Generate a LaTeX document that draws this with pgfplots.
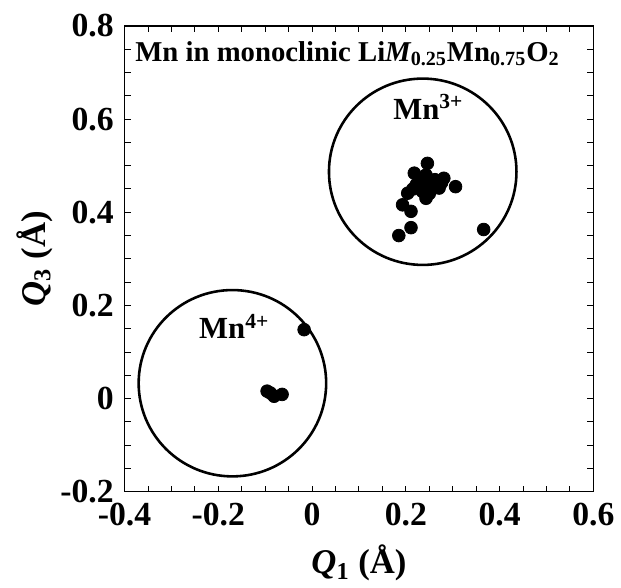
\documentclass[border=0pt]{standalone}
\usepackage{pgfplots}
\pgfplotsset{compat=1.18}
\usepackage{fontspec}
\setmainfont{Liberation Serif}
\begin{document}
\bfseries
\begin{tikzpicture}
\begin{axis}[
  scale only axis, width=236.5pt, height=235pt,
  xmin=-0.4, xmax=0.6, ymin=-0.2, ymax=0.8,
  xtick={-0.4,-0.2,0,0.2,0.4,0.6}, xticklabels={-0.4,-0.2,0,0.2,0.4,0.6},
  ytick={-0.2,0,0.2,0.4,0.6,0.8}, yticklabels={-0.2,0,0.2,0.4,0.6,0.8},
  minor tick num=3,
  tick align=inside, major tick length=3pt, minor tick length=3pt,
  tick style={line width=0.5pt, black},
  axis line style={line width=0.6pt},
  ticklabel style={font=\fontsize{17}{17}\selectfont\bfseries},
  xticklabel style={yshift=-2pt},
  yticklabel style={xshift=-2pt},
  xlabel={{\itshape Q}\textsubscript{1} (Å)},
  ylabel={{\itshape Q}\textsubscript{3} (Å)},
  xlabel style={yshift=-3pt},
  ylabel style={yshift=-3pt},
  label style={font=\fontsize{17.5}{17.5}\selectfont\bfseries},
  clip=false,
]
\draw[line width=1.3pt] (axis cs:0.236,0.487) circle[radius=0.2];
\draw[line width=1.3pt] (axis cs:-0.170,0.033) circle[radius=0.2];
\addplot[only marks, mark=*, mark size=3.2pt, black] coordinates {
(0.246,0.505) (0.218,0.484) (0.243,0.480) (0.281,0.473) (0.271,0.452)
(0.306,0.455) (0.222,0.459) (0.204,0.441) (0.243,0.430) (0.193,0.416)
(0.211,0.402) (0.211,0.367) (0.185,0.350) (0.366,0.363)
(0.230,0.470) (0.250,0.460) (0.262,0.470) (0.235,0.445) (0.250,0.440) (0.215,0.450)
(0.276,0.463)
};
\addplot[only marks, mark=*, mark size=3.2pt, black] coordinates {
(-0.017,0.148) (-0.096,0.016) (-0.081,0.005) (-0.064,0.009) (-0.089,0.012)
};
\node[anchor=west, font=\fontsize{14.5}{14.5}\selectfont\bfseries] at (axis cs:-0.392,0.74)
  {Mn in monoclinic Li{\itshape M}\textsubscript{0.25}Mn\textsubscript{0.75}O\textsubscript{2}};
\node[font=\fontsize{15.5}{15.5}\selectfont\bfseries] at (axis cs:0.248,0.626) {Mn\textsuperscript{3+}};
\node[font=\fontsize{15.5}{15.5}\selectfont\bfseries] at (axis cs:-0.166,0.155) {Mn\textsuperscript{4+}};
\end{axis}
\path ([xshift=-5pt]current bounding box.west);
\path ([yshift=4pt]current bounding box.north);
\end{tikzpicture}
\end{document}
